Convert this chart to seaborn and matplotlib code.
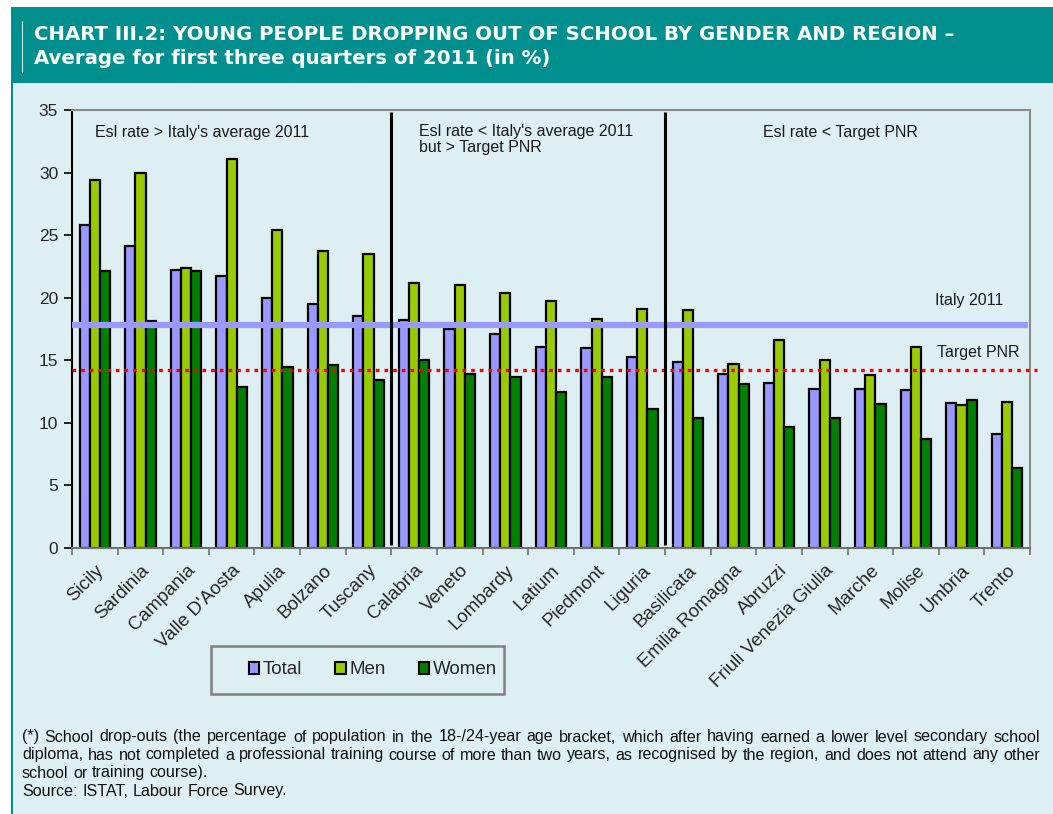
import numpy as np
import pandas as pd
import matplotlib
matplotlib.use("Agg")
import matplotlib.pyplot as plt
import seaborn as sns
from matplotlib.patches import Rectangle, Patch
from matplotlib.lines import Line2D
from matplotlib.font_manager import FontProperties, fontManager, get_font

# ---------------- data ----------------
regions = ["Sicily", "Sardinia", "Campania", "Valle D'Aosta", "Apulia", "Bolzano", "Tuscany",
           "Calabria", "Veneto", "Lombardy", "Latium", "Piedmont", "Liguria",
           "Basilicata", "Emilia Romagna", "Abruzzi", "Friuli Venezia Giulia", "Marche",
           "Molise", "Umbria", "Trento"]
total = [25.8, 24.1, 22.2, 21.7, 20.0, 19.5, 18.5, 18.2, 17.5, 17.1, 16.1, 16.0, 15.3,
         14.9, 13.9, 13.2, 12.7, 12.7, 12.6, 11.6, 9.1]
men = [29.4, 30.0, 22.4, 31.1, 25.4, 23.7, 23.5, 21.2, 21.0, 20.4, 19.7, 18.3, 19.1,
       19.0, 14.7, 16.6, 15.0, 13.8, 16.1, 11.4, 11.7]
women = [22.1, 18.1, 22.1, 12.9, 14.5, 14.6, 13.4, 15.0, 13.9, 13.7, 12.5, 13.7, 11.1,
         10.4, 13.1, 9.7, 10.4, 11.5, 8.7, 11.8, 6.4]
series = ["Total", "Men", "Women"]
italy_2011 = 17.8
target_pnr = 14.2
group_labels = ["Esl rate > Italy's average 2011",
                "Esl rate < Italy's average 2011\nbut > Target PNR",
                "Esl rate < Target PNR"]
title1 = "CHART III.2: YOUNG PEOPLE DROPPING OUT OF SCHOOL BY GENDER AND REGION \u2013"
title2 = "Average for first three quarters of 2011 (in %)"
foot = ["(*) School drop-outs (the percentage of population in the 18-/24-year age bracket, which after having earned a lower level secondary school",
        "diploma, has not completed a professional training course of more than two years, as recognised by the region, and does not attend any other",
        "school or training course).",
        "Source: ISTAT, Labour Force Survey."]

# ---------------- style ----------------
sns.set_theme(style="white")
plt.rcParams["font.family"] = ["Liberation Sans", "DejaVu Sans"]
BG = "#DDEFF2"
TEAL = "#008F8F"
colors = {"Total": "#9999FF", "Men": "#99CC00", "Women": "#008000"}

W, H = 1053, 814
DPI = 100
fig = plt.figure(figsize=(W / DPI, H / DPI), dpi=DPI, facecolor="white")


def fx(x):
    return x / W


def fy(y):
    return 1 - y / H


def frect(x0, y0, x1, y1, **kw):
    r = Rectangle((fx(x0), fy(y1)), fx(x1) - fx(x0), fy(y0) - fy(y1),
                  transform=fig.transFigure, **kw)
    fig.add_artist(r)
    return r


frect(13, 83, W, H, facecolor=BG, edgecolor="none", zorder=0)
frect(11, 7, W, 83, facecolor=TEAL, edgecolor="none", zorder=0)
frect(11, 83, 13, H, facecolor=TEAL, edgecolor="none", zorder=0)
fig.add_artist(Line2D([fx(22), fx(22)], [fy(21), fy(72)], transform=fig.transFigure,
                      color="white", lw=0.8, alpha=0.8))

renderer = fig.canvas.get_renderer()

# title with width fitted
t1 = fig.text(fx(34), fy(34), title1, color="white", fontweight="bold", fontsize=15,
              family=["DejaVu Sans"], va="center", ha="left")
bb = t1.get_window_extent(renderer)
fs = 15 * 921 / bb.width
t1.set_fontsize(fs)
fig.text(fx(34), fy(59), title2, color="white", fontweight="bold", fontsize=fs,
         family=["DejaVu Sans"], va="center", ha="left")

# ---------------- axes ----------------
ax = fig.add_axes([fx(72), fy(548), fx(1030) - fx(72), fy(110) - fy(548)])
ax.set_facecolor(BG)

df = pd.DataFrame({
    "Region": regions * 3,
    "Value": total + men + women,
    "Series": [s for s in series for _ in regions],
})
sns.barplot(data=df, x="Region", y="Value", hue="Series", order=regions,
            hue_order=series, palette=colors, width=0.67, edgecolor="black",
            linewidth=1.6, saturation=1, legend=False, ax=ax, zorder=2, errorbar=None)

ax.set_xlim(-0.5, len(regions) - 0.5)
ax.set_ylim(0, 35)
ax.set_yticks(np.arange(0, 36, 5))
ax.set_xlabel("")
ax.set_ylabel("")

# reference lines
ax.plot([-0.5, len(regions) - 0.55], [italy_2011, italy_2011], color="#9999FF", lw=4.5,
        solid_capstyle="butt", zorder=4)
ax.plot([-0.5, len(regions) - 0.35], [target_pnr, target_pnr], color="#FF0000", lw=2.4,
        linestyle=(0, (1.1, 1.5)), dash_capstyle="butt", clip_on=False, zorder=5)
for xd in (6.5, 12.5):
    ax.plot([xd, xd], [0.25, 34.85], color="black", lw=2.2, zorder=5, solid_capstyle="butt")

# texts in plot
ax.text(0.0, 33.2, group_labels[0], fontsize=11.5, ha="left", va="center", color="#1a1a1a")
ax.text(7.11, 32.65, group_labels[1], fontsize=11.5, ha="left", va="center", color="#1a1a1a",
        linespacing=1.05)
ax.text(14.65, 33.24, group_labels[2], fontsize=11.5, ha="left", va="center", color="#1a1a1a")
ax.text(18.42, 19.8, "Italy 2011", fontsize=11.5, ha="left", va="center", color="#1a1a1a")
ax.text(18.46, 15.6, "Target PNR", fontsize=11.5, ha="left", va="center", color="#1a1a1a")

# spines and ticks
for s in ax.spines.values():
    s.set_visible(True)
    s.set_linewidth(1.5)
ax.spines["left"].set_color("black")
ax.spines["top"].set_color("#8C8C8C")
ax.spines["right"].set_color("#8C8C8C")
ax.spines["bottom"].set_color("#707070")

ax.tick_params(axis="y", direction="out", length=6, width=1.2, color="black",
               labelsize=12.5, pad=4, left=True)
ax.set_xticks(np.arange(len(regions)))
ax.set_xticklabels(regions, rotation=45, ha="right", rotation_mode="anchor", fontsize=13.5)
ax.set_xticks(np.arange(-0.5, len(regions), 1), minor=True)
ax.tick_params(axis="x", which="major", length=0, pad=10, bottom=True)
ax.tick_params(axis="x", which="minor", direction="out", length=5, width=1.2,
               color="#707070", bottom=True)

# legend
frect(211, 646, 504, 694, facecolor="none", edgecolor="#808080", lw=1.8, zorder=3)
handles = [Patch(facecolor=colors[s], edgecolor="black", linewidth=1.5) for s in series]
fig.legend(handles, series, loc="center left", bbox_to_anchor=(fx(249), fy(670)),
           frameon=False, ncol=3, fontsize=13.5, handlelength=0.55, handleheight=0.55,
           handletextpad=0.2, columnspacing=1.75, borderpad=0, borderaxespad=0)

# footnote: words placed at their pen positions, first two lines justified to x=1040
FOOT_FS = 11.6
x_left, x_right = 22, 1040


def word_starts(line):
    """pen x (pixels) of each word start, and the full advance width of the line"""
    words = line.split(" ")
    try:
        from matplotlib import _text_helpers
        prop = FontProperties(family=plt.rcParams["font.family"], size=FOOT_FS)
        font = get_font(fontManager._find_fonts_by_props(prop))
        font.set_size(FOOT_FS, DPI)
        items = list(_text_helpers.layout(line, font))
        if len(items) != len(line):
            raise ValueError
        xs = [it.x for it in items]
        starts, pos = [], 0
        for w_ in words:
            starts.append(xs[pos])
            pos += len(w_) + 1
        last = items[-1]
        last_adv = last.ft_object.load_glyph(last.glyph_idx).linearHoriAdvance / 65536
        return words, starts, xs[-1] + last_adv
    except Exception:
        starts, pos = [], 0
        tot = len(line)
        for w_ in words:
            starts.append(pos / tot * 990)
            pos += len(w_) + 1
        return words, starts, 990.0


for i, (yy, line) in enumerate(zip([737, 755, 773, 791], foot)):
    words, starts, full_w = word_starts(line)
    extra = (x_right - x_left - full_w) / (len(words) - 1) if i < 2 else 0.0
    for k, (w_, sx) in enumerate(zip(words, starts)):
        fig.text(fx(x_left + sx + k * extra), fy(yy), w_, fontsize=FOOT_FS, ha="left",
                 va="center", color="#111111")

fig.savefig("out.png", dpi=DPI, facecolor=fig.get_facecolor())
